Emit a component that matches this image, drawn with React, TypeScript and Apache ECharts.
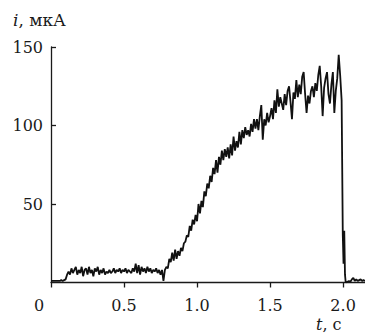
import React, { useEffect, useRef } from "react";
import * as echarts from "echarts";

const times: number[] = [
  0.0, 0.01, 0.02, 0.03, 0.04, 0.05, 0.06, 0.07, 0.08, 0.09, 0.1,
  0.11, 0.12, 0.13, 0.14, 0.15, 0.16, 0.17, 0.18, 0.19, 0.2,
  0.21, 0.22, 0.23, 0.24, 0.25, 0.26, 0.27, 0.28, 0.29, 0.3,
  0.31, 0.32, 0.33, 0.34, 0.35, 0.36, 0.37, 0.38, 0.39, 0.4,
  0.41, 0.42, 0.43, 0.44, 0.45, 0.46, 0.47, 0.48, 0.49, 0.5,
  0.51, 0.52, 0.53, 0.54, 0.55, 0.56, 0.57, 0.58, 0.59, 0.6,
  0.61, 0.62, 0.63, 0.64, 0.65, 0.66, 0.67, 0.68, 0.69, 0.7,
  0.71, 0.72, 0.73, 0.74, 0.75, 0.76, 0.77, 0.78, 0.79, 0.8,
  0.81, 0.82, 0.83, 0.84, 0.85, 0.86, 0.87, 0.88, 0.89, 0.9,
  0.91, 0.92, 0.93, 0.94, 0.95, 0.96, 0.97, 0.98, 0.99, 1.0,
  1.01, 1.02, 1.03, 1.04, 1.05, 1.06, 1.07, 1.08, 1.09, 1.1,
  1.11, 1.12, 1.13, 1.14, 1.15, 1.16, 1.17, 1.18, 1.19, 1.2,
  1.21, 1.22, 1.23, 1.24, 1.25, 1.26, 1.27, 1.28, 1.29, 1.3,
  1.31, 1.32, 1.33, 1.34, 1.35, 1.36, 1.37, 1.38, 1.39, 1.4,
  1.41, 1.42, 1.43, 1.44, 1.45, 1.46, 1.47, 1.48, 1.49, 1.5,
  1.51, 1.52, 1.53, 1.54, 1.55, 1.56, 1.57, 1.58, 1.59, 1.6,
  1.61, 1.62, 1.63, 1.64, 1.65, 1.66, 1.67, 1.68, 1.69, 1.7,
  1.71, 1.72, 1.73, 1.74, 1.75, 1.76, 1.77, 1.78, 1.79, 1.8,
  1.81, 1.82, 1.83, 1.84, 1.85, 1.86, 1.87, 1.88, 1.89, 1.9,
  1.91, 1.92, 1.93, 1.94, 1.95, 1.96, 1.97, 1.98, 1.99,
  1.998, 2.003, 2.008, 2.013, 2.018, 2.03, 2.04, 2.05, 2.06, 2.07, 2.08,
  2.09, 2.1, 2.11, 2.12, 2.13, 2.14, 2.15,
];

const current: number[] = [
  1, 1, 1, 1, 1, 1, 1, 1.5, 1, 1.5, 2,
  5, 7, 5, 9, 6, 8, 10, 5, 8, 6,
  10, 4, 8, 9, 5, 10, 6, 8, 4, 9,
  7, 10, 5, 8, 6, 9, 5, 7, 6, 8,
  6, 7, 9, 6, 8, 7, 9, 6, 8, 7,
  9, 6, 8, 7, 6, 9, 7, 12, 6, 11,
  5, 10, 7, 9, 6, 10, 7, 9, 6, 8,
  7, 9, 6, 8, 5, 8, 1, 8, 10, 9,
  15, 13, 19, 14, 21, 15, 20, 17, 22, 20,
  25, 26, 30, 29, 36, 33, 40, 37, 43, 39,
  50, 44, 52, 48, 58, 55, 63, 60, 68, 64,
  73, 69, 78, 70, 80, 75, 84, 78, 85, 80,
  86, 79, 88, 81, 93, 84, 90, 86, 96, 88,
  97, 92, 99, 94, 97, 93, 101, 96, 104, 98,
  104, 97, 106, 113, 91, 104, 100, 108, 102, 106,
  111, 104, 116, 108, 123, 112, 118, 114, 110, 120,
  113, 122, 125, 115, 104, 121, 117, 129, 118, 126,
  120, 131, 134, 120, 108, 119, 114, 122, 125, 118,
  127, 122, 132, 138, 125, 106, 124, 130, 134, 120,
  114, 126, 134, 108, 122, 130, 145, 132, 116,
  30, 12, 33, 5, 0, 0.5, 1, 0.5, 2, 3, 1,
  2, 1, 1.5, 2, 1, 1.5, 1,
];

const xTicks: number[] = [0, 0.5, 1.0, 1.5, 2.0];
const yTicks: number[] = [50, 100, 150];

const FONT = "DejaVu Serif";
const FS = 16;
const INK = "#1a1a1a";

export default function App() {
  const ref = useRef<HTMLDivElement>(null);

  useEffect(() => {
    document.body.style.margin = "0";
    if (!ref.current) return;
    const chart = echarts.init(ref.current, undefined, { renderer: "svg" });
    const data = times.map((t, i) => [t, current[i]]);
    chart.setOption({
      animation: false,
      textStyle: { fontFamily: FONT },
      grid: { left: 51, top: 47, right: 0, bottom: 50.5, containLabel: false },
      xAxis: {
        type: "value",
        min: 0,
        max: 2.15,
        interval: 0.5,
        splitLine: { show: false },
        axisLine: { show: true, lineStyle: { color: INK, width: 1.3 } },
        axisTick: { show: true, inside: false, length: 5, lineStyle: { color: INK, width: 1.3 } },
        axisLabel: {
          showMaxLabel: false,
          color: INK,
          fontFamily: FONT,
          fontSize: FS,
          margin: 15,
          formatter: (v: number) =>
            xTicks.includes(v) ? (v === 0 ? "{z|0}" : v.toFixed(1)) : "",
          rich: {
            z: { fontFamily: FONT, fontSize: FS, color: INK, padding: [0, 24, 0, 0] },
          },
        },
      },
      yAxis: {
        type: "value",
        min: 0,
        max: 150,
        interval: 50,
        splitLine: { show: false },
        axisLine: { show: true, lineStyle: { color: INK, width: 1.3 } },
        axisTick: { show: true, inside: true, length: 5, lineStyle: { color: INK, width: 1.3 } },
        axisLabel: {
          showMinLabel: false,
          color: INK,
          fontFamily: FONT,
          fontSize: FS,
          margin: 8,
          formatter: (v: number) => (yTicks.includes(v) ? String(v) : ""),
        },
      },
      graphic: [
        {
          type: "text",
          left: 13,
          top: 11,
          style: {
            text: "{i|i}, мкА",
            fontFamily: FONT,
            fontSize: 17,
            fill: INK,
            rich: {
              i: { fontStyle: "italic", fontFamily: FONT, fontSize: 17, fill: INK },
            },
          },
        },
        {
          type: "text",
          left: 316,
          top: 316,
          style: {
            text: "{i|t}, с",
            fontFamily: FONT,
            fontSize: FS,
            fill: INK,
            rich: {
              i: { fontStyle: "italic", fontFamily: FONT, fontSize: FS, fill: INK },
            },
          },
        },
      ],
      series: [
        {
          type: "line",
          data,
          showSymbol: false,
          symbol: "none",
          lineStyle: { color: "#111", width: 1.8 },
        },
      ],
    });
    return () => chart.dispose();
  }, []);

  return <div ref={ref} style={{ width: 365, height: 333 }} />;
}
